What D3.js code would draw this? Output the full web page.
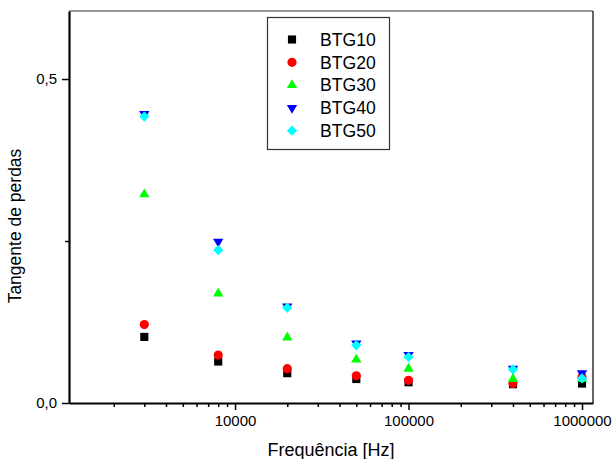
<!DOCTYPE html>
<html>
<head>
<meta charset="utf-8">
<script src="https://cdn.jsdelivr.net/npm/d3@7"></script>
<style>
  body { margin: 0; background: #fff; }
  text { font-family: Arial, "Liberation Sans", sans-serif; fill: #000; }
</style>
</head>
<body>
<div id="chart"></div>
<script>
// Data
const freqs = [3000, 8000, 20000, 50000, 100000, 400000, 1000000];
const btg10 = [0.102, 0.064, 0.046, 0.037, 0.032, 0.029, 0.030];
const btg20 = [0.121, 0.074, 0.053, 0.042, 0.035, 0.030, 0.040];
const btg30 = [0.322, 0.169, 0.101, 0.067, 0.053, 0.037, 0.037];
const btg40 = [0.446, 0.249, 0.149, 0.092, 0.074, 0.053, 0.046];
const btg50 = [0.442, 0.236, 0.147, 0.089, 0.071, 0.052, 0.038];
const seriesNames = ["BTG10", "BTG20", "BTG30", "BTG40", "BTG50"];
const xMajorTicks = [10000, 100000, 1000000];
const yMajorTicks = [0, 0.5];
const yMinorTicks = [0.25];

const width = 612;
const height = 459;
const margin = {top: 11, right: 19, bottom: 56, left: 69};

const seriesValues = [btg10, btg20, btg30, btg40, btg50];
const colours = ["#000000", "#ff0000", "#00ff00", "#0000ff", "#00ffff"];
const symbols = [
  d3.symbol().type(d3.symbolSquare).size(66),
  d3.symbol().type(d3.symbolCircle).size(66),
  d3.symbol().type(d3.symbolTriangle).size(46),
  d3.symbol().type(d3.symbolTriangle).size(46),
  d3.symbol().type(d3.symbolSquare).size(52)
];
const rotations = [0, 0, 0, 180, 45];

const svg = d3.select("#chart")
  .append("svg")
    .attr("width", width)
    .attr("height", height);

// scales
const xScale = d3.scaleLog()
  .domain([1104, 1157000])
  .range([margin.left, width - margin.right]);
const yScale = d3.scaleLinear()
  .domain([0, 0.605])
  .range([height - margin.bottom, margin.top]);

// frame: top and right
svg.append("line")
  .attr("x1", margin.left).attr("x2", width - margin.right)
  .attr("y1", margin.top).attr("y2", margin.top)
  .attr("stroke", "#777").attr("stroke-width", 1.5);
svg.append("line")
  .attr("x1", width - margin.right).attr("x2", width - margin.right)
  .attr("y1", margin.top).attr("y2", height - margin.bottom)
  .attr("stroke", "#000").attr("stroke-width", 1.2);

// bottom axis
const xMinor = xScale.ticks().filter(d => !xMajorTicks.includes(d));
const bottomMinor = svg.append("g")
  .attr("transform", `translate(0, ${height - margin.bottom})`)
  .call(d3.axisBottom(xScale).tickValues(xMinor).tickSize(4).tickFormat(""));
const bottomAxis = svg.append("g")
  .attr("transform", `translate(0, ${height - margin.bottom})`)
  .call(d3.axisBottom(xScale).tickValues(xMajorTicks).tickSize(7).tickSizeOuter(0)
    .tickFormat(d3.format("d")));
bottomAxis.selectAll("text").attr("y", 12).style("font-size", "15px");

// left axis
const leftMinor = svg.append("g")
  .attr("transform", `translate(${margin.left}, 0)`)
  .call(d3.axisLeft(yScale).tickValues(yMinorTicks).tickSize(4).tickFormat(""));
const leftAxis = svg.append("g")
  .attr("transform", `translate(${margin.left}, 0)`)
  .call(d3.axisLeft(yScale).tickValues(yMajorTicks).tickSize(7).tickSizeOuter(0)
    .tickFormat(d => d3.format(".1f")(d).replace(".", ",")));
leftAxis.selectAll("text").attr("x", -12).style("font-size", "15px");

[bottomMinor, bottomAxis, leftMinor, leftAxis].forEach(g => {
  g.selectAll(".tick line").attr("stroke", "#000").attr("stroke-width", 1.5);
  g.select(".domain").attr("stroke", "#000").attr("stroke-width", 2.2);
});
bottomMinor.select(".domain").remove();
leftMinor.select(".domain").remove();

// points
seriesValues.forEach((vals, i) => {
  svg.append("g")
    .selectAll("path")
    .data(vals)
    .join("path")
      .attr("d", symbols[i])
      .attr("transform", (d, j) => `translate(${xScale(freqs[j])}, ${yScale(d)}) rotate(${rotations[i]})`)
      .attr("fill", colours[i]);
});

// legend
const legend = svg.append("g");
legend.append("rect")
  .attr("x", 267.5).attr("y", 17.5)
  .attr("width", 122).attr("height", 132)
  .attr("fill", "#fff").attr("stroke", "#333").attr("stroke-width", 1.2);
seriesNames.forEach((name, i) => {
  const y = 39.5 + i * 22.8;
  legend.append("path")
    .attr("d", symbols[i])
    .attr("transform", `translate(292, ${y}) rotate(${rotations[i]})`)
    .attr("fill", colours[i]);
  legend.append("text")
    .attr("x", 320).attr("y", y)
    .attr("dy", "0.36em")
    .style("font-size", "17.6px")
    .text(name);
});

// axis titles
svg.append("text")
  .attr("x", (margin.left + width - margin.right) / 2)
  .attr("y", 456)
  .attr("text-anchor", "middle")
  .style("font-size", "18px")
  .text("Frequência [Hz]");
svg.append("text")
  .attr("transform", "translate(21, 226) rotate(-90)")
  .attr("text-anchor", "middle")
  .style("font-size", "17.5px")
  .text("Tangente de perdas");
</script>
</body>
</html>
